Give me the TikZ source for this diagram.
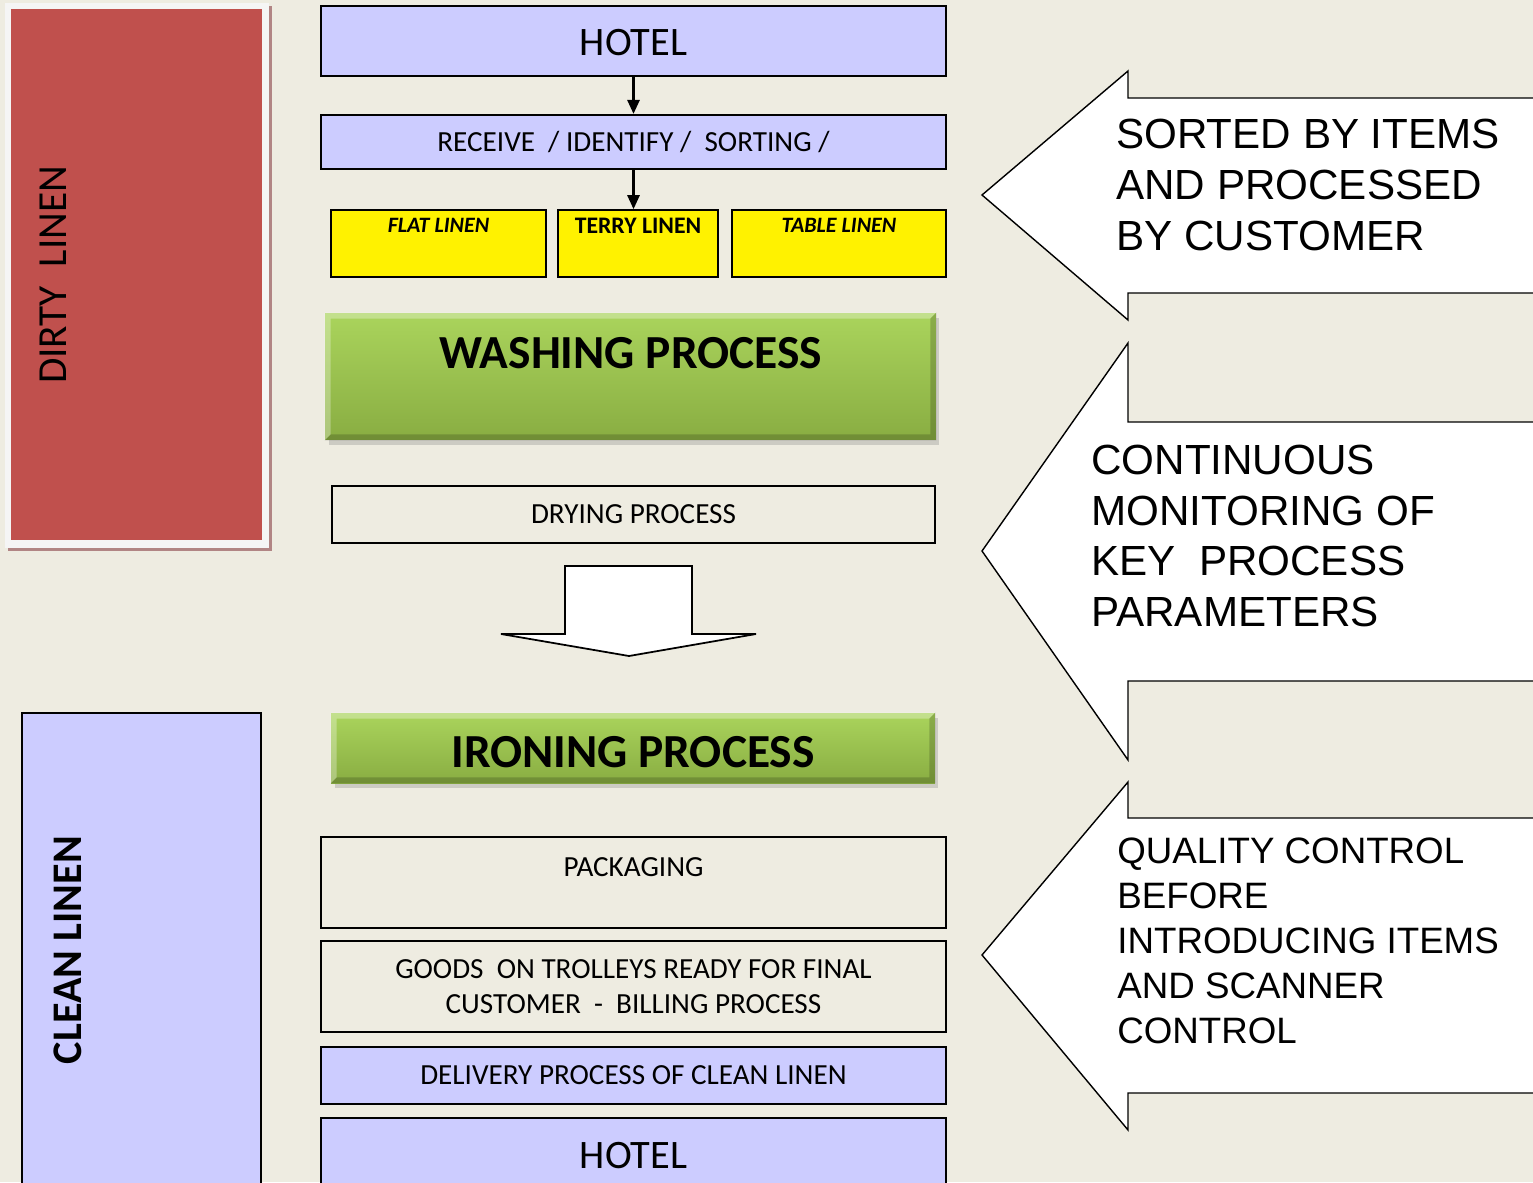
\documentclass[tikz,border=0pt]{standalone}
\usepackage{fontspec}
\setmainfont{Carlito}
\newfontfamily\arialfont{Liberation Sans}
\usetikzlibrary{arrows.meta,shadows}
\definecolor{bgtan}{HTML}{EEECE1}
\definecolor{lavender}{HTML}{CCCCFF}
\definecolor{dirtyred}{HTML}{C0504D}
\definecolor{washtop}{HTML}{AAD45C}
\definecolor{washbot}{HTML}{89AD42}
\newcommand\bevel[1]{%
\fill[white,opacity=.3] (#1.north west) -- (#1.north east) -- ([shift={(-6,6)}]#1.north east) -- ([shift={(6,6)}]#1.north west) -- ([shift={(6,-6)}]#1.south west) -- (#1.south west) -- cycle;
\fill[black,opacity=.18] (#1.south east) -- (#1.north east) -- ([shift={(-6,6)}]#1.north east) -- ([shift={(-6,-6)}]#1.south east) -- ([shift={(6,-6)}]#1.south west) -- (#1.south west) -- cycle;}

\begin{document}
\begin{tikzpicture}[x=0.02cm,y=-0.02cm,
  tx/.style={font=\fontsize{16.6}{20}\selectfont},
  lav/.style={draw,line width=1.3pt,fill=lavender,inner sep=0pt,tx},
  plain/.style={draw,line width=1pt,inner sep=0pt,tx},
  cat/.style={draw,line width=1pt,fill=yellow,inner sep=0pt},
  wash/.style={inner sep=0pt,top color=washtop,bottom color=washbot,
    drop shadow={shadow xshift=2pt,shadow yshift=-3pt,opacity=.3},
    font=\bfseries\fontsize{27}{32}\selectfont},
  callout/.style={draw,line width=0.8pt,fill=white,line join=miter},
  note/.style={align=left,anchor=west,inner sep=0pt,font=\arialfont\fontsize{24}{29}\selectfont}]

\fill[bgtan] (0,0) rectangle (1533,1182);
\useasboundingbox (0,0) rectangle (1533,1182);

\fill[black!35!dirtyred!60] (8,6) rectangle (272,551);
\fill[black!4] (5,3) rectangle (269,548);
\node[fill=dirtyred,minimum width=5.02cm,minimum height=10.62cm] (dirty) at (136.5,274.5) {};
\node[rotate=90,font=\fontsize{23.5}{28}\selectfont] (dirtytxt) at (53,275) {DIRTY\ \ LINEN};

\node[draw,line width=1pt,fill=lavender,minimum width=4.78cm,minimum height=9.62cm] (clean) at (141.5,953.5) {};
\node[rotate=90,font=\bfseries\fontsize{24}{28}\selectfont] (cleantxt) at (68,950) {CLEAN LINEN};

\node[lav,minimum width=12.5cm,minimum height=1.4cm,font=\fontsize{23}{27}\selectfont,text height=0.6cm] (hotel) at (633.5,41) {HOTEL};
\node[lav,minimum width=12.5cm,minimum height=1.08cm] (receive) at (633.5,142) {RECEIVE\ \ / IDENTIFY /\ \ SORTING /};

\node[cat,minimum width=4.3cm,minimum height=1.34cm,label={[anchor=north,inner sep=5pt,font=\bfseries\itshape\fontsize{12.5}{15}\selectfont]north:FLAT LINEN}] (flat) at (438.5,243.5) {};
\node[cat,minimum width=3.2cm,minimum height=1.34cm,label={[anchor=north,inner sep=5pt,font=\bfseries\fontsize{13.5}{16}\selectfont]north:TERRY LINEN}] (terry) at (638,243.5) {};
\node[cat,minimum width=4.28cm,minimum height=1.34cm,label={[anchor=north,inner sep=5pt,font=\bfseries\itshape\fontsize{12.5}{15}\selectfont]north:TABLE LINEN}] (table) at (839,243.5) {};

\node[wash,minimum width=12.22cm,minimum height=2.54cm,text depth=0.95cm] (washing) at (630.5,376.5) {WASHING PROCESS};
\bevel{washing}

\node[plain,minimum width=12.06cm,minimum height=1.14cm] (drying) at (633.5,514.5) {DRYING PROCESS};

\draw[callout,line width=1pt] (565,566) -- (692,566) -- (692,634) -- (756,634) -- (629,656) -- (501,634) -- (565,634) -- cycle;

\node[wash,minimum width=12.08cm,minimum height=1.4cm,text height=0.76cm,text depth=0cm] (ironing) at (633,748) {IRONING PROCESS};
\bevel{ironing}

\node[plain,minimum width=12.5cm,minimum height=1.82cm,text depth=0.6cm] (packaging) at (633.5,882.5) {PACKAGING};
\node[plain,minimum width=12.5cm,minimum height=1.82cm,align=center] (goods) at (633.5,986.5) {GOODS\ \ ON TROLLEYS READY FOR FINAL\\CUSTOMER\ \ -\ \ BILLING PROCESS};
\node[lav,minimum width=12.5cm,minimum height=1.14cm] (delivery) at (633.5,1075.5) {DELIVERY PROCESS OF CLEAN LINEN};
\node[lav,minimum width=12.5cm,minimum height=1.52cm,font=\fontsize{23}{27}\selectfont] (hotelb) at (633.5,1156) {HOTEL};

\draw[-{Triangle[length=8pt,width=7pt]},line width=1.2pt] (hotel) -- (receive);
\draw[-{Triangle[length=8pt,width=7pt]},line width=1.2pt] (receive.south) -- (receive.south |- terry.north);

\draw[callout] (1128,71) -- (982,195) -- (1128,320) -- (1128,293) -- (1545,293) -- (1545,98) -- (1128,98) -- cycle;
\node[note] (sorted) at (1116,185) {SORTED BY ITEMS\\AND PROCESSED\\BY CUSTOMER};

\draw[callout] (1128,343) -- (982,551) -- (1128,760) -- (1128,681) -- (1545,681) -- (1545,422) -- (1128,422) -- cycle;
\node[note] (monitor) at (1091,536) {CONTINUOUS\\MONITORING OF\\KEY\ \ PROCESS\\PARAMETERS};

\draw[callout] (1128,782) -- (982,955) -- (1128,1130) -- (1128,1093) -- (1545,1093) -- (1545,818) -- (1128,818) -- cycle;
\node[note,font=\arialfont\fontsize{20.9}{25.6}\selectfont] (quality) at (1117,941) {QUALITY CONTROL\\BEFORE\\INTRODUCING ITEMS\\AND SCANNER\\CONTROL};
\end{tikzpicture}
\end{document}
